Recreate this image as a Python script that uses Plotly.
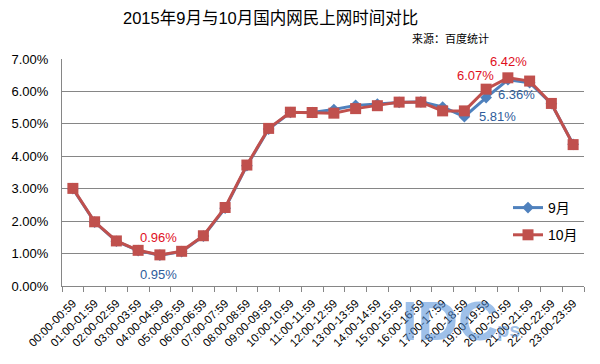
import plotly.graph_objects as go

categories = ["%02d:00-%02d:59" % (h, h) for h in range(24)]
sep_values = [3.00, 1.97, 1.38, 1.09, 0.95, 1.06, 1.54, 2.40, 3.71, 4.84, 5.35, 5.35,
              5.44, 5.57, 5.61, 5.66, 5.68, 5.52, 5.22, 5.81, 6.36, 6.27, 5.62, 4.37]
oct_values = [3.01, 1.98, 1.39, 1.10, 0.96, 1.07, 1.55, 2.42, 3.73, 4.86, 5.36, 5.35,
              5.33, 5.47, 5.56, 5.67, 5.67, 5.40, 5.40, 6.07, 6.42, 6.32, 5.63, 4.36]
y_ticks = [0, 1, 2, 3, 4, 5, 6, 7]

title_text = "2015年9月与10月国内网民上网时间对比"
source_text = "来源：百度统计"

FONT = "Liberation Sans, Noto Sans CJK SC, sans-serif"
BLUE = "#4F81BD"
RED = "#C0504D"

# page body has an 8px margin; work in window pixels and convert
OFF = 8
W, H = 600 - OFF, 364 - OFF
PL, PR, PT, PB = 62, 584, 59, 286  # plot area in window pixels
L, T = PL - OFF, PT - OFF
R = W - (PR - OFF)
B = H - (PB - OFF)
plot_w = W - L - R
plot_h = H - T - B


def px_x(px):
    return (px - OFF - L) / plot_w


def px_y(py):
    return (H - B - (py - OFF)) / plot_h


fig = go.Figure()
fig.add_trace(go.Scatter(
    x=categories, y=sep_values, name="9月", mode="lines+markers", legendgroup="sep",
    line=dict(color=BLUE, width=3),
    marker=dict(symbol="diamond", size=9, color=BLUE),
))
fig.add_trace(go.Scatter(
    x=categories, y=oct_values, name="10月", mode="lines+markers", legendgroup="oct",
    line=dict(color=RED, width=3),
    marker=dict(symbol="square", size=11, color=RED),
))

annotations = []
red_lab = "#E0101E"
blue_lab = "#2F5D9B"
for idx, xs, ys in [(4, -1, 17), (19, -11, 14), (20, 1, 16)]:
    annotations.append(dict(x=categories[idx], y=oct_values[idx], xref="x", yref="y",
                            text="%.2f%%" % oct_values[idx], showarrow=False,
                            xshift=xs, yshift=ys, font=dict(color=red_lab, size=13, family=FONT)))
for idx, xs, ys in [(4, -1, -19), (19, 11, -19), (20, 9, -15)]:
    annotations.append(dict(x=categories[idx], y=sep_values[idx], xref="x", yref="y",
                            text="%.2f%%" % sep_values[idx], showarrow=False,
                            xshift=xs, yshift=ys, font=dict(color=blue_lab, size=13, family=FONT)))

annotations.append(dict(x=px_x(270), y=px_y(18), xref="paper", yref="paper", text=title_text,
                        showarrow=False, xanchor="center", yanchor="middle",
                        font=dict(size=16.5, color="black", family=FONT)))
annotations.append(dict(x=px_x(491), y=px_y(39), xref="paper", yref="paper", text=source_text,
                        showarrow=False, xanchor="right", yanchor="middle",
                        font=dict(size=11, color="black", family=FONT)))
# watermark
annotations.append(dict(x=px_x(450), y=px_y(320), xref="paper", yref="paper", text="<b>IDC</b>",
                        showarrow=False, xanchor="center", yanchor="middle",
                        font=dict(size=56, color="rgba(79,140,215,0.55)", family="Liberation Sans")))
annotations.append(dict(x=px_x(508), y=px_y(330), xref="paper", yref="paper", text="<b>ps</b>",
                        showarrow=False, xanchor="center", yanchor="middle",
                        font=dict(size=20, color="rgba(79,140,215,0.55)", family="Liberation Sans")))

fig.update_layout(
    width=W, height=H,
    margin=dict(l=L, r=R, t=T, b=B, autoexpand=False),
    paper_bgcolor="white", plot_bgcolor="white",
    font=dict(family=FONT, size=12, color="black"),
    showlegend=True,
    legend=dict(x=px_x(508), y=px_y(192), xanchor="left", yanchor="top",
                bgcolor="rgba(0,0,0,0)", font=dict(size=14), tracegroupgap=6,
                itemwidth=30),
    xaxis=dict(
        type="category", tickangle=-45, tickfont=dict(size=11.5), automargin=False,
        ticklabelstandoff=5,
        showgrid=False, showline=True, linecolor="#868686", linewidth=1,
        ticks="outside", tickson="boundaries", ticklen=5, tickcolor="#868686",
        range=[-0.5, 23.5],
    ),
    yaxis=dict(
        range=[0, 7], tickvals=y_ticks, ticktext=["%.2f%%" % v for v in y_ticks],
        automargin=False, ticklabelstandoff=10,
        showgrid=True, gridcolor="#868686", gridwidth=1, zeroline=False,
        showline=True, linecolor="#868686", tickfont=dict(size=13), ticks="",
    ),
    annotations=annotations,
)

fig.write_html("out.html")
